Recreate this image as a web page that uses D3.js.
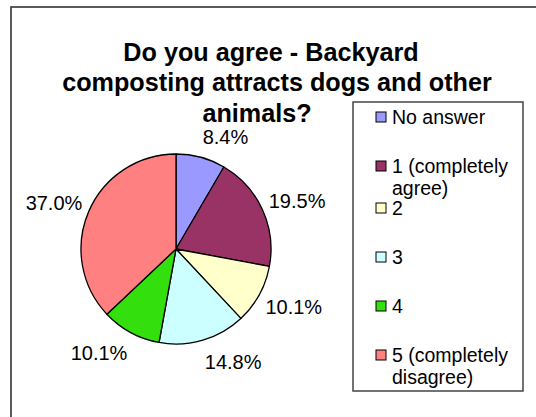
<!DOCTYPE html>
<html>
<head>
<meta charset="utf-8">
<script src="https://cdn.jsdelivr.net/npm/d3@7"></script>
<style>
  html, body { margin: 0; padding: 0; background: #fff; }
  svg { display: block; }
  text { font-family: Arial, "Liberation Sans", sans-serif; }
</style>
</head>
<body>
<svg id="chart" width="536" height="417"></svg>
<script>
const titleLines = ["Do you agree - Backyard", "composting attracts dogs and other", "animals?"];
const categories = ["No answer", "1 (completely agree)", "2", "3", "4", "5 (completely disagree)"];
const legendLines = [["No answer"], ["1 (completely", "agree)"], ["2"], ["3"], ["4"], ["5 (completely", "disagree)"]];
const values = [8.4, 19.5, 10.1, 14.8, 10.1, 37.0];
const colors = ["#9999FF", "#993366", "#FFFFCC", "#CCFFFF", "#33E00E", "#FF8080"];

const svg = d3.select("#chart");
svg.append("rect").attr("width", 536).attr("height", 417).attr("fill", "#fff");

// outer chart border (extends beyond the window on the right/bottom)
svg.append("rect")
  .attr("x", 11).attr("y", 7).attr("width", 600).attr("height", 500)
  .attr("fill", "none").attr("stroke", "#333").attr("stroke-width", 1.6);

// title
const titleX = [271, 277, 257];
svg.append("g").selectAll("text").data(titleLines).join("text")
  .attr("x", (d, i) => titleX[i])
  .attr("y", (d, i) => 61 + i * 30.3)
  .attr("text-anchor", "middle")
  .attr("font-weight", "bold")
  .attr("font-size", 25.2)
  .attr("fill", "#000")
  .text(d => d);

// pie
const cx = 176, cy = 249, R = 95;
const pie = d3.pie().sort(null).value(d => d).startAngle(0).endAngle(2 * Math.PI);
const arcs = pie(values);
const arc = d3.arc().innerRadius(0).outerRadius(R);
const g = svg.append("g").attr("transform", `translate(${cx},${cy})`);
g.selectAll("path").data(arcs).join("path")
  .attr("d", arc)
  .attr("fill", (d, i) => colors[i])
  .attr("stroke", "#000")
  .attr("stroke-width", 1.3)
  .attr("stroke-linejoin", "round");

// labels
const fmt = d => d.toFixed(1) + "%";
const rx = 102, ry = 116;
g.selectAll("text.lbl").data(arcs).join("text")
  .attr("class", "lbl")
  .each(function(d) {
    const a = (d.startAngle + d.endAngle) / 2;
    const s = Math.sin(a), c = Math.cos(a);
    d3.select(this)
      .attr("x", rx * s)
      .attr("y", -ry * c + (c < 0 ? 2 : 0))
      .attr("text-anchor", s >= 0 ? "start" : "end");
  })
  .attr("dy", "0.36em")
  .attr("font-size", 20)
  .attr("fill", "#000")
  .text(d => fmt(d.data));

// legend
const lg = svg.append("g");
lg.append("rect")
  .attr("x", 353).attr("y", 102).attr("width", 170).attr("height", 289)
  .attr("fill", "#fff").attr("stroke", "#444").attr("stroke-width", 1.5);
const rowY = i => 117 + 49 * i - (i >= 2 ? 7 : 0);
const items = lg.selectAll("g.item").data(categories).join("g")
  .attr("class", "item")
  .attr("transform", (d, i) => `translate(0,${rowY(i)})`);
items.append("rect")
  .attr("x", 376).attr("y", -5).attr("width", 10).attr("height", 10)
  .attr("fill", (d, i) => colors[i]).attr("stroke", "#000").attr("stroke-width", 1);
items.each(function(d, i) {
  d3.select(this).selectAll("text").data(legendLines[i]).join("text")
    .attr("x", 392)
    .attr("y", (t, j) => j * 22)
    .attr("dy", "0.36em")
    .attr("font-size", 19.5)
    .attr("fill", "#000")
    .text(t => t);
});
</script>
</body>
</html>
